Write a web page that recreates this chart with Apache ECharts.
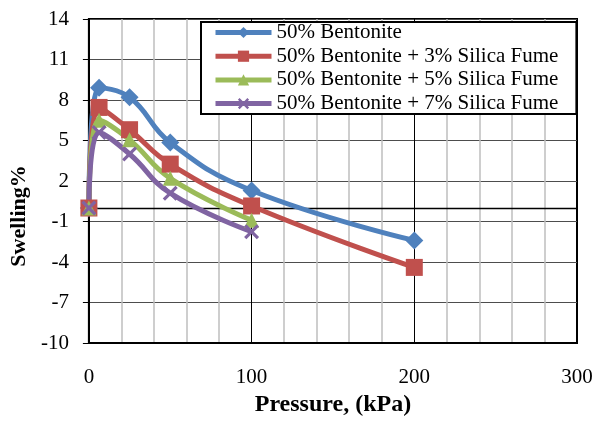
<!DOCTYPE html>
<html>
<head>
<meta charset="utf-8">
<script src="https://cdn.jsdelivr.net/npm/echarts@6/dist/echarts.min.js"></script>
<style>
html,body{margin:0;padding:0;background:#fff;}
#chart{width:598px;height:423px;}
</style>
</head>
<body>
<div id="chart"></div>
<script>
// Data
const pressure = [0, 6.25, 25, 50, 100, 200];
const pressureShort = [0, 6.25, 25, 50, 100];
const seriesNames = [
  '50% Bentonite',
  '50% Bentonite + 3% Silica Fume',
  '50% Bentonite + 5% Silica Fume',
  '50% Bentonite + 7% Silica Fume'
];
const bentonite = [0, 8.9, 8.2, 4.85, 1.3, -2.4];
const silica3 = [0, 7.45, 5.8, 3.25, 0.15, -4.4];
const silica5 = [0, 6.5, 5.05, 2.2, -0.9];
const silica7 = [0, 5.6, 4.0, 1.1, -1.75];
const yTicks = [-10, -7, -4, -1, 2, 5, 8, 11, 14];
const xTicks = [0, 100, 200, 300];

const colors = ['#4F81BD', '#C0504D', '#9BBB59', '#8064A2'];
const crossPath = 'path://M0,1.5 L1.5,0 L5,3.5 L8.5,0 L10,1.5 L6.5,5 L10,8.5 L8.5,10 L5,6.5 L1.5,10 L0,8.5 L3.5,5 Z';

function pairs(xs, ys){ return xs.map((x,i)=>[x, ys[i]]); }

const chart = echarts.init(document.getElementById('chart'), null, {renderer:'canvas'});
const font = 'Liberation Serif';

function mkSeries(name, data, color, symbol, size){
  return {
    name: name,
    type: 'line',
    xAxisIndex: 0,
    data: data,
    smooth: 0.45,
    symbol: symbol,
    symbolSize: size,
    showAllSymbol: true,
    lineStyle: {color: color, width: 5},
    itemStyle: {color: color, borderWidth: 0},
    emphasis: {disabled: true},
    z: 3
  };
}

chart.setOption({
  animation: false,
  backgroundColor: '#fff',
  color: colors,
  grid: {left: 86, right: 21, top: 19, bottom: 80, show: true, borderColor: '#000', borderWidth: 2, containLabel: false},
  legend: {
    left: 201, top: 22,
    orient: 'vertical',
    backgroundColor: '#fff',
    borderColor: '#000',
    borderWidth: 2,
    padding: [0, 18, 0, 12],
    itemWidth: 56,
    itemHeight: 14,
    itemGap: 2.7,
    lineStyle: {width: 5},
    textStyle: {fontFamily: font, fontSize: 21, lineHeight: 21, color: '#000'},
    data: seriesNames
  },
  xAxis: [{
    type: 'value', min: 0, max: 300, interval: 100,
    name: 'Pressure, (kPa)', nameLocation: 'middle', nameGap: 50,
    nameTextStyle: {fontFamily: font, fontSize: 24, fontWeight: 'bold', color: '#000'},
    axisLine: {onZero: false, lineStyle: {color: '#000', width: 2}},
    axisTick: {show: false},
    axisLabel: {fontFamily: font, fontSize: 21, color: '#000', margin: 24,
      formatter: v => xTicks.includes(v) ? String(v) : ''},
    splitLine: {show: true, lineStyle: {color: '#000', width: 1}},
    minorTick: {show: false, splitNumber: 5},
    minorSplitLine: {show: true, lineStyle: {color: '#bfbfbf', width: 1.5}}
  }, {
    type: 'value', min: 0, max: 300, position: 'bottom',
    axisLine: {show: true, onZero: true, lineStyle: {color: '#000', width: 1.3}},
    axisTick: {show: false}, axisLabel: {show: false}, splitLine: {show: false}
  }],
  yAxis: {
    type: 'value', min: -10, max: 14, interval: 3,
    name: 'Swelling%', nameLocation: 'middle', nameGap: 54,
    nameTextStyle: {fontFamily: font, fontSize: 22, fontWeight: 'bold', color: '#000', padding: [0, 70, 0, 0]},
    axisLine: {lineStyle: {color: '#000', width: 2}},
    axisTick: {show: true, inside: false, length: 6, lineStyle: {color: '#000', width: 1}},
    axisLabel: {fontFamily: font, fontSize: 21, color: '#000', margin: 20,
      formatter: v => yTicks.includes(v) ? String(v) : ''},
    splitLine: {show: true, lineStyle: {color: '#4d4d4d', width: 1}}
  },
  series: [
    mkSeries(seriesNames[0], pairs(pressure, bentonite), colors[0], 'diamond', 18),
    mkSeries(seriesNames[1], pairs(pressure, silica3), colors[1], 'rect', 17),
    mkSeries(seriesNames[2], pairs(pressureShort, silica5), colors[2], 'triangle', 15),
    mkSeries(seriesNames[3], pairs(pressureShort, silica7), colors[3], crossPath, 15)
  ]
});
</script>
</body>
</html>
